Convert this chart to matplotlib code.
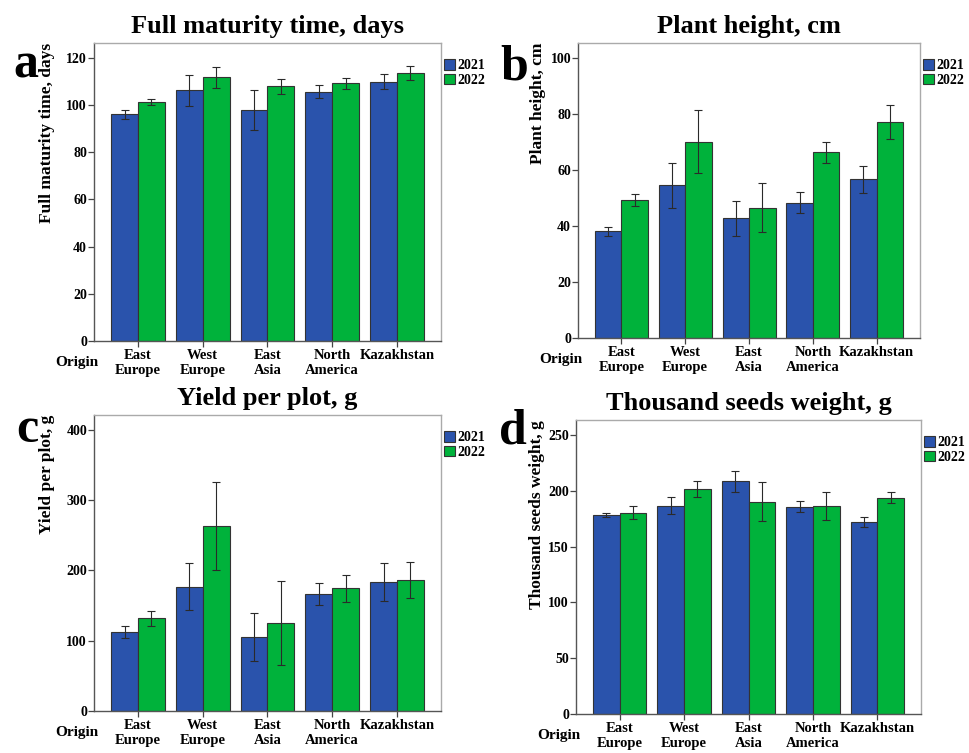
import matplotlib
matplotlib.use("Agg")
import matplotlib.pyplot as plt
import numpy as np

plt.rcParams['font.family'] = ['Liberation Serif', 'DejaVu Serif']
plt.rcParams['font.weight'] = 'bold'

origins = ['East\nEurope', 'West\nEurope', 'East\nAsia', 'North\nAmerica', 'Kazakhstan']
years = ['2021', '2022']

maturity_2021 = [96.0, 106.3, 98.0, 105.6, 109.9]
maturity_2022 = [101.3, 111.7, 107.9, 109.3, 113.5]
maturity_err_2021 = [1.7, 6.6, 8.5, 2.7, 3.2]
maturity_err_2022 = [1.3, 4.6, 3.2, 2.3, 2.9]

height_2021 = [38.1, 54.6, 42.8, 48.4, 56.7]
height_2022 = [49.3, 70.2, 46.6, 66.3, 77.1]
height_err_2021 = [1.7, 8.1, 6.3, 3.6, 4.9]
height_err_2022 = [2.2, 11.2, 8.8, 3.7, 6.1]

yield_2021 = [112.2, 176.5, 105.1, 166.0, 183.1]
yield_2022 = [131.7, 263.0, 125.1, 174.6, 186.9]
yield_err_2021 = [8.0, 33.3, 33.8, 15.4, 27.0]
yield_err_2022 = [11.0, 63.0, 60.2, 19.3, 25.7]

tsw_2021 = [178.4, 186.8, 208.5, 185.6, 172.1]
tsw_2022 = [180.5, 202.0, 190.3, 186.5, 193.9]
tsw_err_2021 = [2.0, 7.5, 9.3, 4.8, 4.8]
tsw_err_2022 = [5.7, 7.2, 17.5, 12.4, 5.0]

blue = '#2a53ac'
green = '#00b23b'


def panel(rect, letter, letter_xy, title, ylabel, ylab_x, v21, v22, e21, e22, ymax, ystep):
    ax = fig.add_axes(rect)
    x = np.arange(len(origins))
    w = 0.415
    ax.bar(x - w / 2, v21, w, color=blue, edgecolor='#333333', linewidth=0.8, label=years[0])
    ax.bar(x + w / 2, v22, w, color=green, edgecolor='#333333', linewidth=0.8, label=years[1])
    ax.errorbar(x - w / 2, v21, yerr=e21, fmt='none', ecolor='#2a2a2a', elinewidth=0.8, capsize=3, capthick=0.8)
    ax.errorbar(x + w / 2, v22, yerr=e22, fmt='none', ecolor='#2a2a2a', elinewidth=0.8, capsize=3, capthick=0.8)

    ax.set_xlim(-0.68, 4.68)
    ax.set_ylim(0, ymax)
    ax.set_yticks(np.arange(0, ymax, ystep))
    ax.set_xticks(x)
    ax.set_xticklabels(origins, fontsize=10.5, fontweight='bold')
    ax.tick_params(axis='y', labelsize=10, length=4, width=0.9, color='#444444', pad=1)
    ax.tick_params(axis='x', length=4, width=0.9, color='#444444', pad=2)
    for s in ['top', 'right']:
        ax.spines[s].set_color('#aaaaaa')
    for s in ['left', 'bottom']:
        ax.spines[s].set_color('#555555')
    for s in ax.spines.values():
        s.set_linewidth(1.0)

    ax.set_title(title, fontsize=19, fontweight='bold', pad=7)
    ax.text(ylab_x, 1.0, ylabel, rotation=90, transform=ax.transAxes,
            ha='center', va='top', fontsize=12.5, fontweight='bold')
    ax.text(-0.05, -0.072, 'Origin', transform=ax.transAxes,
            ha='center', va='center', fontsize=11, fontweight='bold')
    ax.legend(loc='upper left', bbox_to_anchor=(1.0, 0.955), frameon=False,
              fontsize=10, handlelength=0.8, handleheight=0.8, handletextpad=0.15,
              labelspacing=0.1, borderaxespad=0.1, borderpad=0.1)
    fig.text(letter_xy[0], letter_xy[1], letter, fontsize=36, fontweight='bold', ha='left', va='baseline')
    return ax


fig = plt.figure(figsize=(9.7, 7.53), dpi=100)

panel([0.0969, 0.5471, 0.3577, 0.3958], 'a', (13 / 970, 1 - 78 / 753),
      'Full maturity time, days', 'Full maturity time, days', -0.135,
      maturity_2021, maturity_2022, maturity_err_2021, maturity_err_2022, 126.3, 20)
panel([0.5959, 0.5511, 0.3526, 0.3918], 'b', (500 / 970, 1 - 80 / 753),
      'Plant height, cm', 'Plant height, cm', -0.118,
      height_2021, height_2022, height_err_2021, height_err_2022, 105.4, 20)
panel([0.0969, 0.0558, 0.3577, 0.3931], 'c', (16 / 970, 1 - 442 / 753),
      'Yield per plot, g', 'Yield per plot, g', -0.135,
      yield_2021, yield_2022, yield_err_2021, yield_err_2022, 421, 100)
panel([0.5938, 0.0518, 0.3557, 0.3904], 'd', (499 / 970, 1 - 443 / 753),
      'Thousand seeds weight, g', 'Thousand seeds weight, g', -0.113,
      tsw_2021, tsw_2022, tsw_err_2021, tsw_err_2022, 263.4, 50)

fig.savefig('out.png', dpi=100, facecolor='white')
